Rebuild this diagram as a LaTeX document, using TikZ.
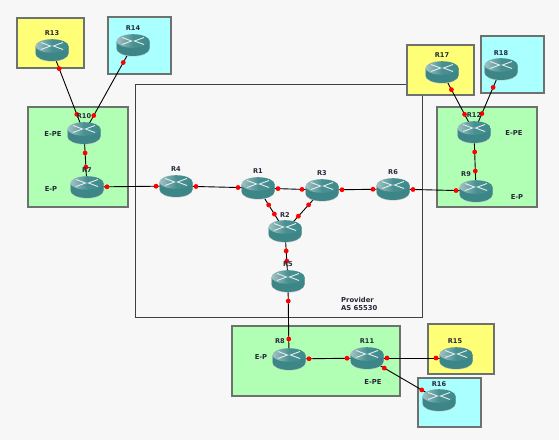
\documentclass[tikz,border=0pt]{standalone}
\usepackage{xcolor}
\usepackage{fontspec}
\setmainfont{DejaVu Sans}
\usetikzlibrary{calc, backgrounds}

\definecolor{canvas}{HTML}{F7F7F7}
\definecolor{edgegray}{HTML}{6E726E}
\definecolor{zonegreen}{HTML}{B0FFB4}
\definecolor{zoneyellow}{HTML}{FFFF77}
\definecolor{zonecyan}{HTML}{AAFFFF}
\definecolor{routerteal}{HTML}{3C8688}
\definecolor{routertop}{HTML}{3F8A8C}
\definecolor{routerpale}{HTML}{A3C2C4}
\definecolor{tagink}{HTML}{26283A}

% red dots sit a fixed distance from the router centres
\newcommand{\linkdots}[2]{
  \fill [red] ($(#1)!20pt!(#2)$) circle (2.4pt);
  \fill [red] ($(#2)!20pt!(#1)$) circle (2.4pt);
}

\begin{document}
\begin{tikzpicture}[
  x=1pt, y=-1pt,
  zone/.style={draw=edgegray, line width=1.2pt},
  router/.style={rectangle, minimum width=35pt, minimum height=25pt, inner sep=0pt, path picture={
    \fill [black!25] (-16.5,-3.4) -- (-16.5,4) arc [start angle=180, end angle=360, x radius=16.5, y radius=-7.5] -- (16.5,-3.4) -- cycle;
    \fill [routerteal] (-16.5,-4) -- (-16.5,3.4) arc [start angle=180, end angle=360, x radius=16.5, y radius=-7.5] -- (16.5,-4) -- cycle;
    \shade [left color=routerpale, right color=routertop, middle color=routertop!90!routerpale] (0,-4) ellipse (16.5 and 6.8);
    \draw [white!85!routerteal, line width=0.9pt] (-11,-7.5) -- (-1.5,-4) -- (-11,-0.5);
    \draw [white!85!routerteal, line width=0.9pt] (11,-7.5) -- (1.5,-4) -- (11,-0.5);
  }},
  tag/.style={font=\bfseries\fontsize{6.6}{8}\selectfont, text=tagink, inner sep=0pt},
  note/.style={font=\bfseries\fontsize{6.8}{8.5}\selectfont, text=tagink, inner sep=0pt, align=left},
  link/.style={black, line width=0.9pt}
]

% Canvas
\useasboundingbox (0,0) rectangle (559,440);

% Routers
\node (r13) [router] at (52,50) {};
\node (r14) [router] at (133,45) {};
\node (r10) [router] at (84,133) {};
\node (r7) [router] at (87,187) {};
\node (r4) [router] at (176,186) {};
\node (r1) [router] at (258,188) {};
\node (r3) [router] at (322,190) {};
\node (r2) [router] at (285,231) {};
\node (r5) [router] at (288,281) {};
\node (r6) [router] at (393,189) {};
\node (r9) [router] at (476,191) {};
\node (r12) [router] at (474,132) {};
\node (r17) [router] at (442,72) {};
\node (r18) [router] at (501,69) {};
\node (r8) [router] at (289,359) {};
\node (r11) [router] at (367,358) {};
\node (r15) [router] at (456,358) {};
\node (r16) [router] at (439,400) {};

\begin{scope}[on background layer]
\fill [canvas] (0,0) rectangle (559,440);

% Provider area and the sites
\draw [draw=black!75, line width=0.9pt] (135,84) rectangle (422,317);
\draw [zone, fill=zoneyellow] (17,18) rectangle (84,68);
\draw [zone, fill=zonecyan] (108,17) rectangle (171,74);
\draw [zone, fill=zonegreen] (28,107) rectangle (128,207);
\draw [zone, fill=zoneyellow] (407,45) rectangle (474,95);
\draw [zone, fill=zonecyan] (481,36) rectangle (544,93);
\draw [zone, fill=zonegreen] (437,107) rectangle (537,207);
\draw [zone, fill=zonegreen] (232,326) rectangle (400,396);
\draw [zone, fill=zoneyellow] (428,324) rectangle (494,374);
\draw [zone, fill=zonecyan] (418,378) rectangle (481,427);

% Links
\draw [link] (r13.center) -- (r10.center);
\draw [link] (r14.center) -- (r10.center);
\draw [link] (r10.center) -- (r7.center);
\draw [link] (r7.center) -- (r4.center);
\draw [link] (r4.center) -- (r1.center);
\draw [link] (r1.center) -- (r3.center);
\draw [link] (r1.center) -- (r2.center);
\draw [link] (r3.center) -- (r2.center);
\draw [link] (r2.center) -- (r5.center);
\draw [link] (r5.center) -- (r8.center);
\draw [link] (r3.center) -- (r6.center);
\draw [link] (r6.center) -- (r9.center);
\draw [link] (r9.center) -- (r12.center);
\draw [link] (r12.center) -- (r17.center);
\draw [link] (r12.center) -- (r18.center);
\draw [link] (r8.center) -- (r11.center);
\draw [link] (r11.center) -- (r15.center);
\draw [link] (r11.center) -- (r16.center);
\end{scope}

% Link ends
\linkdots{r13}{r10}
\linkdots{r14}{r10}
\linkdots{r10}{r7}
\linkdots{r7}{r4}
\linkdots{r4}{r1}
\linkdots{r1}{r3}
\linkdots{r1}{r2}
\linkdots{r3}{r2}
\linkdots{r2}{r5}
\linkdots{r5}{r8}
\linkdots{r3}{r6}
\linkdots{r6}{r9}
\linkdots{r9}{r12}
\linkdots{r12}{r17}
\linkdots{r12}{r18}
\linkdots{r8}{r11}
\linkdots{r11}{r15}
\linkdots{r11}{r16}

% Router names
\node (t13) [tag] at (52,33) {R13};
\node (t14) [tag] at (133,28) {R14};
\node (t10) [tag] at (84,116) {R10};
\node (t7) [tag] at (87,170) {R7};
\node (t4) [tag] at (176,169) {R4};
\node (t1) [tag] at (258,171) {R1};
\node (t3) [tag] at (322,173) {R3};
\node (t2) [tag] at (285,215) {R2};
\node (t5) [tag] at (288,264) {R5};
\node (t6) [tag] at (393,172) {R6};
\node (t9) [tag] at (466,174) {R9};
\node (t12) [tag] at (474,115) {R12};
\node (t17) [tag] at (442,55) {R17};
\node (t18) [tag] at (501,53) {R18};
\node (t8) [tag] at (280,341) {R8};
\node (t11) [tag] at (367,341) {R11};
\node (t15) [tag] at (455,341) {R15};
\node (t16) [tag] at (439,384) {R16};

% Role notes
\node (pe1) [note] at (53,134) {E-PE};
\node (p1) [note] at (51,189) {E-P};
\node (pe2) [note] at (514,133) {E-PE};
\node (p2) [note] at (517,197) {E-P};
\node (p3) [note] at (261,357) {E-P};
\node (pe3) [note] at (373,382) {E-PE};
\node (provider) [note, anchor=north west] at (341,297) {Provider\\AS 65530};

\end{tikzpicture}
\end{document}
